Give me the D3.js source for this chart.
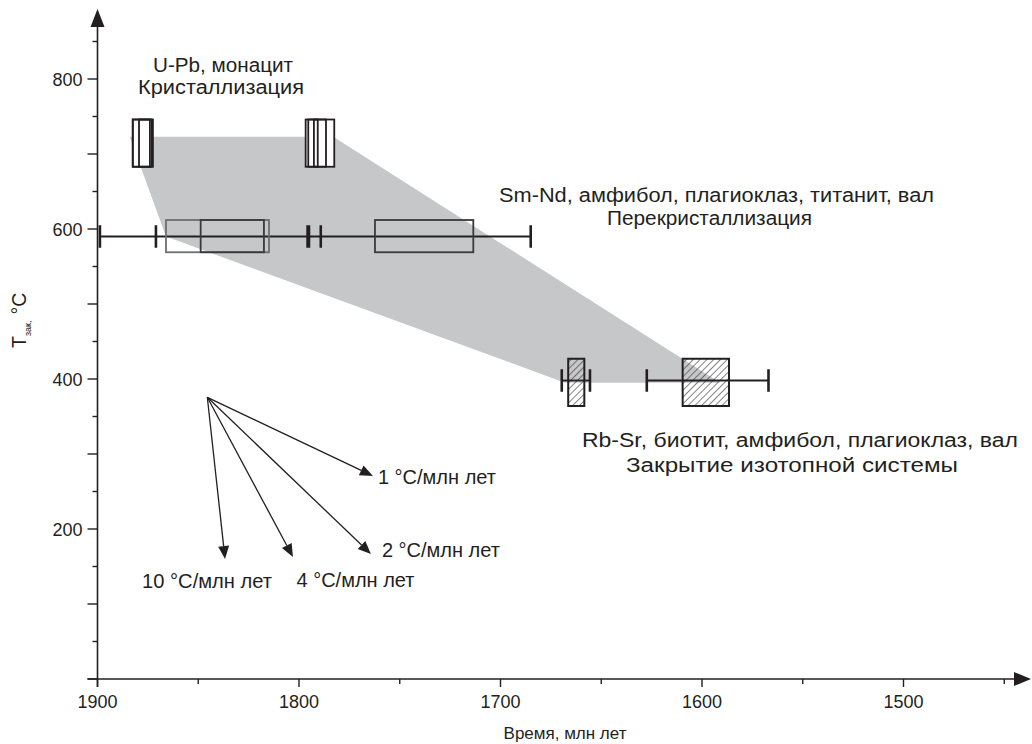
<!DOCTYPE html>
<html><head><meta charset="utf-8">
<script src="https://cdn.jsdelivr.net/npm/d3@7"></script>
<style>
html,body{margin:0;padding:0;background:#fff;}
svg text{font-family:"Liberation Sans",Arial,sans-serif;fill:#231f20;}
</style></head>
<body><svg id="c" width="1032" height="744"></svg>
<script>
// ---- data ----
const xTicksMajor = [1900, 1800, 1700, 1600, 1500];
const xTicksMinor = [1850, 1750, 1650, 1550, 1450];
const yTicksMajor = [0, 100, 200, 300, 400, 500, 600, 700, 800];
const yTicksMinor = [50, 150, 250, 350, 450, 550, 650, 750, 850];
const yTickLabels = [200, 400, 600, 800];

// Cooling envelope (time, T)
const envelopeTime = [1884, 1783, 1591, 1668, 1866];
const envelopeTemp = [723, 723, 395, 395, 590];

// U-Pb monazite boxes (time from, time to), temperature range
const monaziteFrom = [1882.5, 1879.4, 1882.5, 1796.7, 1795.4, 1792.6];
const monaziteTo   = [1874.0, 1872.5, 1873.1, 1790.7, 1786.6, 1782.5];
const monaziteTemp = [683, 746];

// Sm-Nd
const smNdTemp = 590;
const smNdBoxTemp = [569, 612];
const smNdBoxFrom = [1866, 1848.8, 1762.3];
const smNdBoxTo   = [1814.9, 1817.4, 1713.5];
const smNdRange = [1898.8, 1685];
const smNdCaps = [1898.8, 1871, 1795.4, 1789.2, 1685];

// Rb-Sr
const rbSrTemp = 398;
const rbSrBoxTemp = [364, 427];
const rbSrBoxFrom = [1666.4, 1609.6];
const rbSrBoxTo   = [1658.4, 1586.6];
const rbSrWhiskFrom = [1669.6, 1627.4];
const rbSrWhiskTo   = [1655.6, 1567];

// Cooling-rate arrows
const rateOrigin = [1845.5, 375.6];
const rateLabels = ["1 °C/млн лет", "2 °C/млн лет", "4 °C/млн лет", "10 °C/млн лет"];
const rateEndTime = [1763.3, 1764.3, 1803, 1836.7];
const rateEndTemp = [270.7, 166.7, 162.7, 160];

// Annotation texts
const annTexts = ["U-Pb, монацит", "Кристаллизация",
  "Sm-Nd, амфибол, плагиоклаз, титанит, вал", "Перекристаллизация",
  "Rb-Sr, биотит, амфибол, плагиоклаз, вал", "Закрытие изотопной системы"];
const xTitle = "Время, млн лет";

// ---- drawing ----
const svg = d3.select("#c");
const x = d3.scaleLinear().domain([1900, 1500]).range([97.5, 903.5]);
const y = d3.scaleLinear().domain([0, 800]).range([679, 79]);
const ink = "#231f20";

const defs = svg.append("defs");
const pat = defs.append("pattern").attr("id","hatch").attr("patternUnits","userSpaceOnUse")
  .attr("width",4.8).attr("height",4.8).attr("patternTransform","rotate(45)");
pat.append("line").attr("x1",0).attr("y1",0).attr("x2",0).attr("y2",4.8)
  .attr("stroke",ink).attr("stroke-width",1.1);

// envelope
svg.append("polygon")
  .attr("points", envelopeTime.map((t,i)=>[x(t), y(envelopeTemp[i])].join(",")).join(" "))
  .attr("fill","#c6c7c9");

// axes
const x0 = x(1900), y0 = y(0);
const axG = svg.append("g").attr("stroke", ink).attr("stroke-width", 1.6);
axG.append("line").attr("x1", x0 - 10).attr("x2", 1018).attr("y1", y0).attr("y2", y0);
axG.append("line").attr("x1", x0).attr("x2", x0).attr("y1", y0 + 8).attr("y2", 24);
svg.append("path").attr("d", `M${x0},9 L${x0-7},27 L${x0+7},27 Z`).attr("fill", ink);
svg.append("path").attr("d", `M1031,${y0} L1014,${y0-7} L1014,${y0+7} Z`).attr("fill", ink);

const gx = svg.append("g").attr("transform", `translate(0,${y0})`);
gx.selectAll(".maj").data(xTicksMajor).join("line")
  .attr("x1", d=>x(d)).attr("x2", d=>x(d)).attr("y1",0).attr("y2",8)
  .attr("stroke", ink).attr("stroke-width",1.4);
gx.selectAll(".min").data(xTicksMinor).join("line")
  .attr("x1", d=>x(d)).attr("x2", d=>x(d)).attr("y1",0).attr("y2",5)
  .attr("stroke", ink).attr("stroke-width",1.4);
gx.selectAll("text").data(xTicksMajor).join("text")
  .attr("x", d=>x(d)).attr("y", 29).attr("text-anchor","middle")
  .attr("font-size", 18).text(d=>d);

const gy = svg.append("g").attr("transform", `translate(${x0},0)`);
gy.selectAll(".maj").data(yTicksMajor).join("line")
  .attr("x1", -10).attr("x2", 0).attr("y1", d=>y(d)).attr("y2", d=>y(d))
  .attr("stroke", ink).attr("stroke-width",1.4);
gy.selectAll(".min").data(yTicksMinor).join("line")
  .attr("x1", -5).attr("x2", 0).attr("y1", d=>y(d)).attr("y2", d=>y(d))
  .attr("stroke", ink).attr("stroke-width",1.4);
gy.selectAll("text").data(yTickLabels).join("text")
  .attr("x", -15).attr("y", d=>y(d)+6.5).attr("text-anchor","end")
  .attr("font-size", 18).text(d=>d);

// axis titles
svg.append("text").attr("x", 565).attr("y", 739).attr("text-anchor","middle")
  .attr("font-size", 17).text(xTitle);
const yl = svg.append("text").attr("transform","translate(26,348) rotate(-90)").attr("font-size",19.5);
yl.append("tspan").text("T");
yl.append("tspan").attr("font-size",9).attr("dy",5).text("зак,");
yl.append("tspan").attr("dy",-5).attr("dx",6).text("°C");

// monazite boxes: white fills, then outlines
const mono = svg.append("g");
const mRect = sel => sel
  .attr("x", d=>x(d[0])).attr("width", d=>x(d[1])-x(d[0]))
  .attr("y", y(monaziteTemp[1])).attr("height", y(monaziteTemp[0])-y(monaziteTemp[1]));
const mData = monaziteFrom.map((d,i)=>[d, monaziteTo[i]]);
mono.selectAll("rect.f").data(mData).join("rect").attr("class","f").call(mRect)
  .attr("fill","#fff").attr("stroke","none");
mono.selectAll("rect.s").data(mData).join("rect").attr("class","s").call(mRect)
  .attr("fill","none").attr("stroke", ink).attr("stroke-width",1.8);

// Sm-Nd
svg.append("line").attr("x1", x(smNdRange[0])).attr("x2", x(smNdRange[1]))
  .attr("y1", y(smNdTemp)).attr("y2", y(smNdTemp)).attr("stroke", ink).attr("stroke-width",1.8);
svg.append("g").selectAll("rect").data(smNdBoxFrom).join("rect")
  .attr("x", d=>x(d)).attr("width",(d,i)=>x(smNdBoxTo[i])-x(d))
  .attr("y", y(smNdBoxTemp[1])).attr("height", y(smNdBoxTemp[0])-y(smNdBoxTemp[1]))
  .attr("fill","none").attr("stroke",(d,i)=> i===0 ? "#6d6e70" : "#3a3a3c").attr("stroke-width",1.8);
svg.append("g").selectAll("line").data(smNdCaps).join("line")
  .attr("x1", d=>x(d)).attr("x2", d=>x(d))
  .attr("y1", y(smNdTemp+15)).attr("y2", y(smNdTemp-15))
  .attr("stroke", ink).attr("stroke-width",(d,i)=> i===2 ? 4 : 2.6);

// Rb-Sr
svg.append("g").selectAll("line.w").data(rbSrWhiskFrom).join("line")
  .attr("x1", d=>x(d)).attr("x2",(d,i)=>x(rbSrWhiskTo[i]))
  .attr("y1", y(rbSrTemp)).attr("y2", y(rbSrTemp)).attr("stroke", ink).attr("stroke-width",1.8);
svg.append("g").selectAll("rect").data(rbSrBoxFrom).join("rect")
  .attr("x", d=>x(d)).attr("width",(d,i)=>x(rbSrBoxTo[i])-x(d))
  .attr("y", y(rbSrBoxTemp[1])).attr("height", y(rbSrBoxTemp[0])-y(rbSrBoxTemp[1]))
  .attr("fill","url(#hatch)").attr("stroke", ink).attr("stroke-width",2);
const rbCaps = rbSrWhiskFrom.concat(rbSrWhiskTo);
svg.append("g").selectAll("line").data(rbCaps).join("line")
  .attr("x1", d=>x(d)).attr("x2", d=>x(d))
  .attr("y1", y(rbSrTemp+15)).attr("y2", y(rbSrTemp-15))
  .attr("stroke", ink).attr("stroke-width",2.6);

// rate arrows
const ox = x(rateOrigin[0]), oy = y(rateOrigin[1]);
const ag = svg.append("g");
rateLabels.forEach((lab,i)=>{
  const tx = x(rateEndTime[i]), ty = y(rateEndTemp[i]);
  const dx = tx-ox, dy = ty-oy, L = Math.hypot(dx,dy), ux = dx/L, uy = dy/L;
  const hl = 13, hw = 5.5;
  const bx = tx - ux*hl, by = ty - uy*hl;
  ag.append("line").attr("x1",ox).attr("y1",oy).attr("x2",bx).attr("y2",by)
    .attr("stroke",ink).attr("stroke-width",1.3);
  ag.append("path").attr("d",`M${tx},${ty} L${bx - uy*hw},${by + ux*hw} L${bx + uy*hw},${by - ux*hw} Z`)
    .attr("fill",ink);
});
const labPos = [[5, 8], [11, 3.5], [3.5, 30], [-83, 28.5]];
const labW = [118, 118, 118, 130];
ag.selectAll("text").data(rateLabels).join("text")
  .attr("x",(d,i)=>x(rateEndTime[i])+labPos[i][0]).attr("y",(d,i)=>y(rateEndTemp[i])+labPos[i][1])
  .attr("font-size",19.5).attr("textLength",(d,i)=>labW[i]).attr("lengthAdjust","spacingAndGlyphs")
  .text(d=>d);

// annotations (centre x, baseline y, width)
const annPos = [[223, 72, 140], [221, 94, 166], [716.5, 202, 435], [709.5, 224.5, 205],
  [800, 447, 436], [792, 472, 332]];
svg.append("g").selectAll("text").data(annTexts).join("text")
  .attr("x", (d,i)=>annPos[i][0]).attr("y", (d,i)=>annPos[i][1]).attr("text-anchor","middle")
  .attr("font-size",20).attr("textLength",(d,i)=>annPos[i][2]).attr("lengthAdjust","spacingAndGlyphs")
  .text(d=>d);
</script></body></html>
